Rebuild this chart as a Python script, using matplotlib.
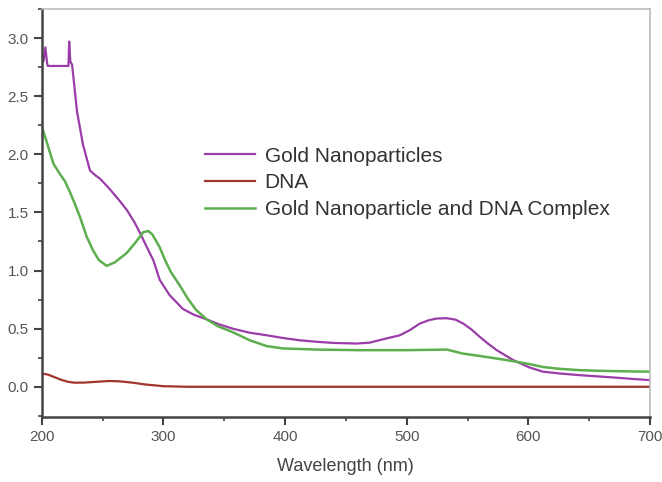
import matplotlib
matplotlib.use("Agg")
import matplotlib.pyplot as plt
from matplotlib.ticker import MultipleLocator, FormatStrFormatter

# Gold Nanoparticles (purple)
gold_wl = [200, 201.5, 203, 204.5, 205, 210, 215, 222, 222.6, 223.5, 225, 229, 234,
           239.7, 244, 248, 256, 264, 270, 276, 281, 286, 291.7, 297, 305, 316,
           325, 335.6, 345, 357, 371, 385, 398, 412, 426, 440, 459, 470, 481,
           494.4, 503, 510.8, 518, 524.5, 532.8, 540, 546.4, 553, 560, 567, 574,
           587.5, 601, 612, 625, 642, 656, 670, 685, 700]
gold_abs = [2.86, 2.80, 2.92, 2.78, 2.76, 2.76, 2.76, 2.76, 2.97, 2.80, 2.77, 2.37, 2.08,
            1.86, 1.82, 1.79, 1.70, 1.60, 1.52, 1.42, 1.32, 1.21, 1.09, 0.92, 0.79, 0.67,
            0.62, 0.58, 0.54, 0.50, 0.465, 0.443, 0.42, 0.40, 0.387, 0.377, 0.372, 0.38, 0.41,
            0.443, 0.49, 0.544, 0.572, 0.587, 0.59, 0.578, 0.544, 0.495, 0.43, 0.37, 0.315,
            0.23, 0.166, 0.13, 0.115, 0.10, 0.09, 0.08, 0.068, 0.057]

# DNA (red)
dna_wl = [200, 205, 210, 216, 222, 227, 235, 245, 256, 265, 275, 285, 300, 320, 400, 500, 600, 700]
dna_abs = [0.115, 0.105, 0.085, 0.06, 0.042, 0.035, 0.036, 0.043, 0.05, 0.046, 0.035, 0.02, 0.005, 0.0,
           0.0, 0.0, 0.0, 0.0]

# Gold Nanoparticle and DNA Complex (green)
comp_wl = [200, 204, 209.6, 215, 219, 223, 227, 231.5, 237, 242.4, 247, 253.4, 260,
           269.8, 277, 283.5, 287.6, 291, 297, 301, 306, 313.6, 320, 327, 335.6,
           345, 357, 371, 385, 398, 426, 460, 500, 533, 546, 560, 574, 587.5,
           601, 612, 625, 642, 656, 670, 685, 700]
comp_abs = [2.24, 2.11, 1.92, 1.83, 1.77, 1.68, 1.58, 1.46, 1.29, 1.17, 1.09, 1.04, 1.07,
            1.15, 1.24, 1.33, 1.34, 1.31, 1.20, 1.10, 0.99, 0.87, 0.76, 0.66, 0.58,
            0.52, 0.47, 0.40, 0.35, 0.33, 0.32, 0.315, 0.315, 0.32, 0.286, 0.265, 0.243, 0.22,
            0.195, 0.17, 0.155, 0.143, 0.138, 0.135, 0.132, 0.13]

labels = ["Gold Nanoparticles", "DNA", "Gold Nanoparticle and DNA Complex"]
colors = ["#9A3DA8", "#A2352E", "#5DAE4E"]

plt.rcParams['font.family'] = ['Liberation Sans', 'DejaVu Sans']

fig = plt.figure(figsize=(6.62, 4.82), dpi=100)
ax = fig.add_axes([41.7/662, 1 - 417/482, (650 - 41.7)/662, (417 - 9)/482])

ax.plot(gold_wl, gold_abs, color=colors[0], lw=1.6, label=labels[0])
ax.plot(dna_wl, dna_abs, color=colors[1], lw=1.6, label=labels[1])
ax.plot(comp_wl, comp_abs, color=colors[2], lw=1.8, label=labels[2])

ax.set_xlim(200, 700)
ax.set_ylim(-0.26, 3.25)
ax.xaxis.set_major_locator(MultipleLocator(100))
ax.xaxis.set_minor_locator(MultipleLocator(50))
ax.yaxis.set_major_locator(MultipleLocator(0.5))
ax.yaxis.set_minor_locator(MultipleLocator(0.25))
ax.yaxis.set_major_formatter(FormatStrFormatter("%.1f"))

for s in ["left", "bottom"]:
    ax.spines[s].set_color("#444444")
    ax.spines[s].set_linewidth(1.8)
for s in ["top", "right"]:
    ax.spines[s].set_color("#bbbbbb")
    ax.spines[s].set_linewidth(1.2)

ax.tick_params(axis="both", which="major", direction="out", length=5.5, width=1.5,
               color="#444444", labelcolor="#555555", labelsize=11, pad=4)
ax.tick_params(axis="both", which="minor", direction="out", length=3, width=1.2,
               color="#444444")

ax.set_xlabel("Wavelength (nm)", fontsize=13, color="#444444", labelpad=10)

leg = ax.legend(loc="upper left", bbox_to_anchor=(0.254, 0.683), frameon=False,
                fontsize=15, handlelength=2.4, handletextpad=0.48, labelspacing=0.37,
                borderaxespad=0)
for t in leg.get_texts():
    t.set_color("#333333")

fig.savefig("out.png", dpi=100)
